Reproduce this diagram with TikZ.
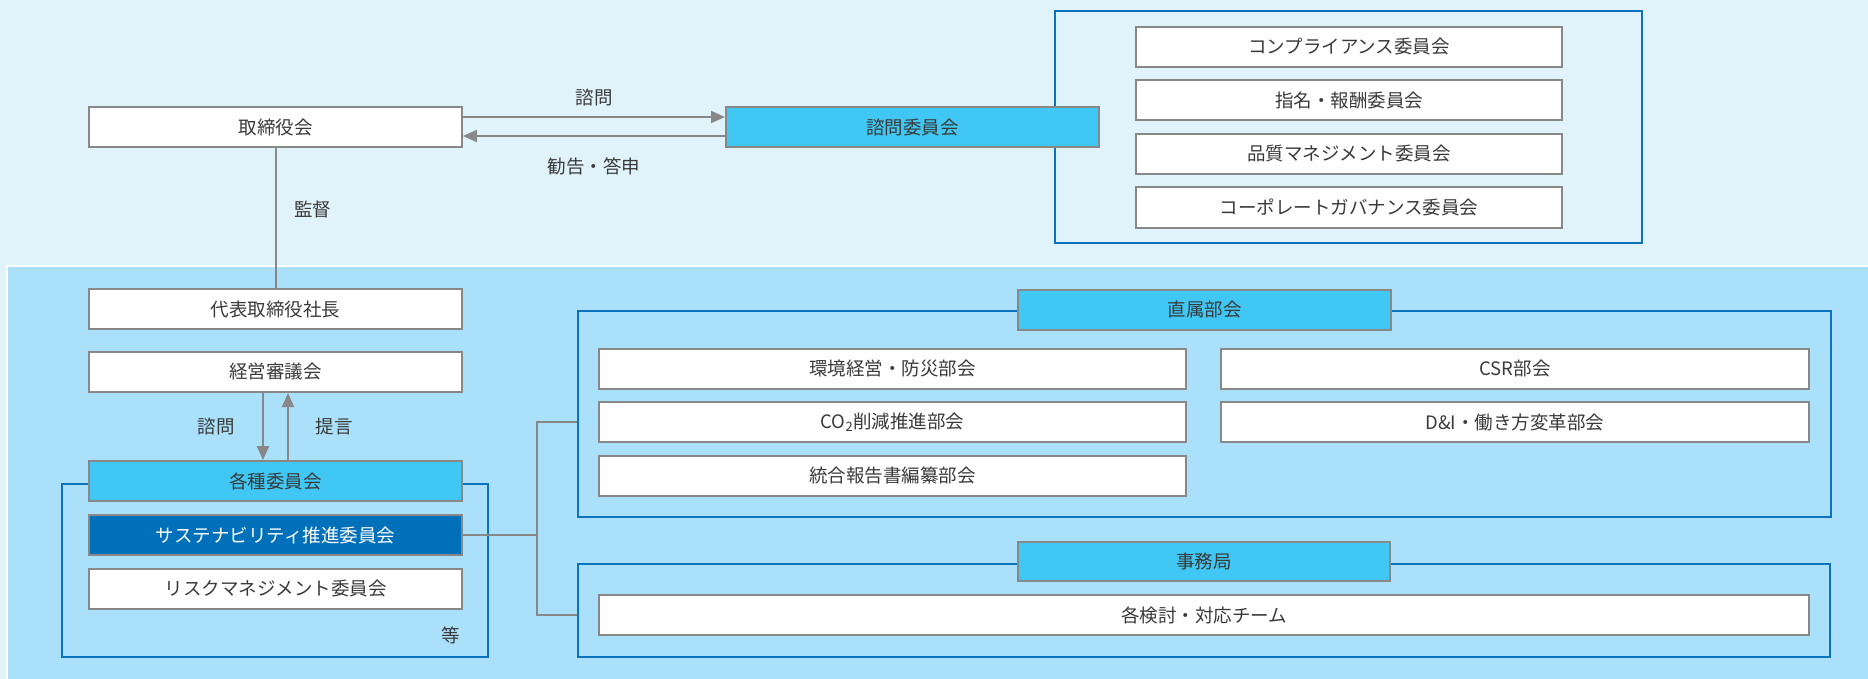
\documentclass[tikz,border=0pt]{standalone}
\usepackage{fontspec}
\setmainfont{Noto Sans CJK JP}
\usepackage{tikz}
\usetikzlibrary{arrows.meta, calc, positioning}
\definecolor{topbg}{HTML}{E0F3FB}
\definecolor{lowbg}{HTML}{AAE0FA}
\definecolor{headcyan}{HTML}{40C7F3}
\definecolor{susblue}{HTML}{0070BA}
\definecolor{frameblue}{HTML}{0B72BD}
\definecolor{linegray}{HTML}{888888}
\definecolor{txtgray}{HTML}{3A3A3A}
\tikzset{
>={Triangle[length=14pt,width=12pt]}, % bold arrow heads
node distance=11.5pt, % gap between stacked boxes
every node/.style={inner sep=1pt, text=txtgray, font=\fontsize{18.5pt}{22pt}\selectfont},
box/.style={draw=linegray, line width=2pt, fill=white, minimum height=40pt, inner sep=0pt},
headbox/.style={box, fill=headcyan},
susbox/.style={box, fill=susblue, text=white},
groupframe/.style={draw=frameblue, line width=2pt, inner sep=0pt},
conn/.style={draw=linegray, line width=2pt},
}

\begin{document}
\begin{tikzpicture}[x=1pt,y=-1pt]%px-like units, y downwards
  \useasboundingbox (0,0) rectangle (1868,679);
  \fill[topbg] (0,0) rectangle (1868,679);
  \draw[white, line width=2pt, fill=lowbg] (7,266) rectangle (1872,684);

  % frames first
  \node[groupframe, minimum width=587pt, minimum height=232pt] (advframe) at (1348.5,127) {};
  \node[groupframe, minimum width=426pt, minimum height=173pt] (comframe) at (275,570.5) {};
  \node[groupframe, minimum width=1253pt, minimum height=206pt] (bukai) at (1204.5,414) {};
  \node[groupframe, minimum width=1252pt, minimum height=93pt] (jimu) at (1204,610.5) {};

  % board and advisory committees
  \node[box, minimum width=373pt] (board) at (275.5,127) {取締役会};
  \node[headbox, minimum width=373pt] (advisory) at (912.5,127) {諮問委員会};
  \node[box, minimum width=426pt] (comp) at (1349,47) {コンプライアンス委員会};
  \node[box, minimum width=426pt, below=of comp] (nom) {指名・報酬委員会};
  \node[box, minimum width=426pt, below=of nom] (qual) {品質マネジメント委員会};
  \node[box, minimum width=426pt, below=of qual] (cg) {コーポレートガバナンス委員会};

  % executive side
  \node[box, minimum width=373pt] (ceo) at (275.5,309) {代表取締役社長};
  \node[box, minimum width=373pt, below=21pt of ceo] (mgmt) {経営審議会};
  \node[headbox, minimum width=373pt, below=67pt of mgmt] (kakushu) {各種委員会};
  \node[susbox, minimum width=373pt, below=12pt of kakushu] (sus) {サステナビリティ推進委員会};
  \node[box, minimum width=373pt, below=12pt of sus] (risk) {リスクマネジメント委員会};
  \node (etc) at (451,635) {等};

  % direct sub-committees
  \node[headbox, minimum width=373pt] (bukaihead) at (1204.5,309.5) {直属部会};
  \node[box, minimum width=587pt] (kankyo) at (892.5,368.5) {環境経営・防災部会};
  \node[box, minimum width=587pt, below=of kankyo] (co2) {CO\textsubscript{2}削減推進部会};
  \node[box, minimum width=587pt, below=of co2] (togo) {統合報告書編纂部会};
  \node[box, minimum width=588pt] (csr) at (1515,368.5) {CSR部会};
  \node[box, minimum width=588pt, below=of csr] (di) {D\&I・働き方変革部会};

  % secretariat
  \node[headbox, minimum width=372pt, minimum height=39pt] (jimuhead) at (1204,561.5) {事務局};
  \node[box, minimum width=1210pt] (team) at (1204,615) {各検討・対応チーム};

  \coordinate (hub) at ($(sus.east)+(74,0)$);

  \draw[conn,->] ([yshift=10pt]board.east) -- node[yshift=20pt]{諮問} ([yshift=10pt]advisory.west);
  \draw[conn,->] ([yshift=-9pt]advisory.west) -- node[yshift=-30pt]{勧告・答申} ([yshift=-9pt]board.east);
  \draw[conn] (board.south) -- node[xshift=37pt, yshift=9pt]{監督} (ceo.north);
  \draw[conn,->] ([xshift=-12.5pt]mgmt.south) -- node[xshift=-47pt]{諮問} ([xshift=-12.5pt]kakushu.north);
  \draw[conn,->] ([xshift=12.5pt]kakushu.north) -- node[xshift=46pt]{提言} ([xshift=12.5pt]mgmt.south);
  \draw[conn] (sus.east) -- (hub);
  \draw[conn] (bukai.west |- co2) -| (hub) |- (jimu.west |- team);
\end{tikzpicture}
\end{document}
